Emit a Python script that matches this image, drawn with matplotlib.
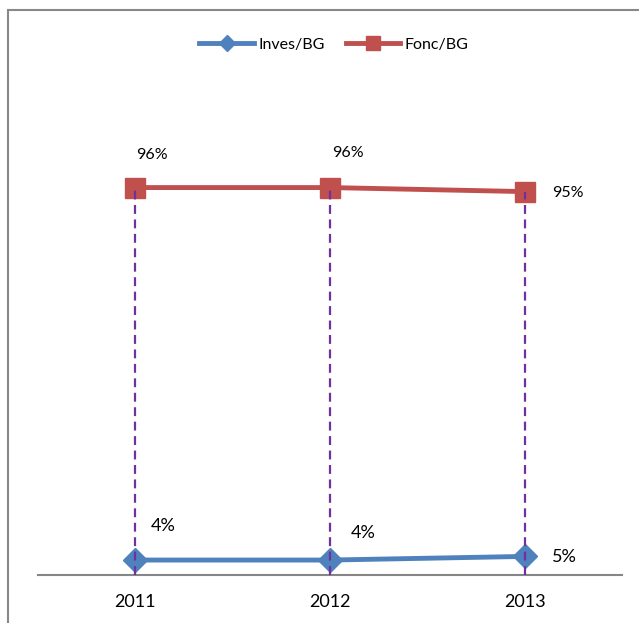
import matplotlib.pyplot as plt
from matplotlib.patches import Rectangle

# data (percent)
years = ["2011", "2012", "2013"]
inves = [3.7, 3.7, 4.6]
fonc = [95.9, 95.9, 94.9]
inves_labels = ["4%", "4%", "5%"]
fonc_labels = ["96%", "96%", "95%"]

blue = "#4F81BD"
red = "#C0504D"
purple = "#7030A0"

plt.rcParams["font.family"] = ["Lato", "DejaVu Sans"]

fig = plt.figure(figsize=(6.39, 6.23), dpi=100)
W, H = 639, 623

# chart border (runs off the right/bottom edge like the screenshot)
fig.patches.append(Rectangle((8 / W, -0.05), 1.0, (H - 10) / H + 0.05,
                             transform=fig.transFigure, fill=False,
                             edgecolor="#888888", linewidth=1.5))

ax = fig.add_axes([38 / W, (H - 575) / H, (622 - 38) / W, (575 - 60) / H])
x = list(range(len(years)))

ax.plot(x, inves, color=blue, linewidth=3.5, marker="D", markersize=12,
        label="Inves/BG", zorder=3)
ax.plot(x, fonc, color=red, linewidth=3.5, marker="s", markersize=14,
        label="Fonc/BG", zorder=3)

# drop lines
for xi, top in zip(x, fonc):
    ax.plot([xi, xi], [0, top], color=purple, linestyle=(0, (4, 2.5)),
            linewidth=1.6, zorder=4)

ax.set_xlim(-0.5, 2.5)
ax.set_ylim(0, 515 / 4.04)

# data labels (pixel offsets from the point, left edge of text)
fonc_off = [(1, 33), (2, 35), (27, -1)]
inves_off = [(15, 34), (21, 27), (27, -1)]
for xi, v, lab, (dx, dy) in zip(x, fonc, fonc_labels, fonc_off):
    ax.annotate(lab, (xi, v), xytext=(dx, dy), textcoords="offset pixels",
                ha="left", va="center", fontsize=11.5)
for xi, v, lab, (dx, dy) in zip(x, inves, inves_labels, inves_off):
    ax.annotate(lab, (xi, v), xytext=(dx, dy), textcoords="offset pixels",
                ha="left", va="center", fontsize=13)

for s in ["top", "right", "left"]:
    ax.spines[s].set_visible(False)
ax.spines["bottom"].set_color("#868686")
ax.spines["bottom"].set_linewidth(1.5)
ax.set_yticks([])
ax.set_xticks(x)
ax.set_xticklabels(years, fontsize=13)
ax.tick_params(axis="x", length=0, pad=14)

fig.legend(loc="center", bbox_to_anchor=(334 / W, (H - 45) / H), ncol=2,
           frameon=False, fontsize=11.5, handlelength=3.4, columnspacing=1.3,
           handletextpad=0.3, markerscale=0.7)

fig.savefig("out.png", dpi=100)
